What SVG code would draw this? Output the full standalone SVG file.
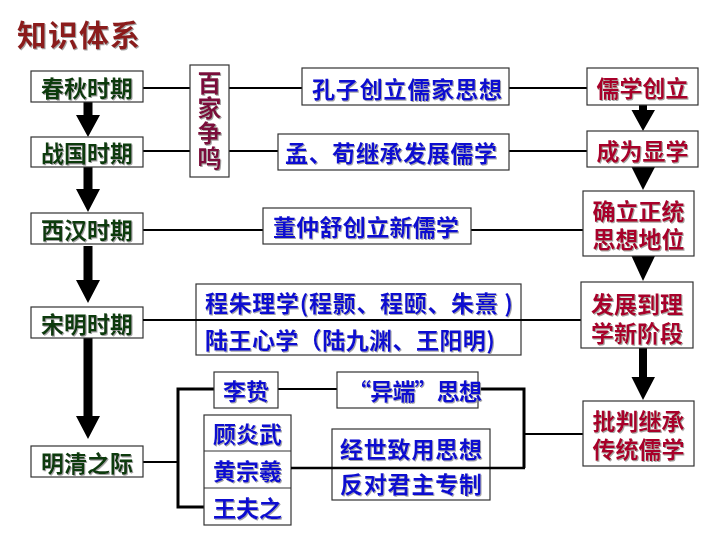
<svg xmlns="http://www.w3.org/2000/svg" width="720" height="540" viewBox="0 0 720 540">
<defs>
<filter id="sh" x="-5%" y="-10%" width="115%" height="130%">
<feDropShadow dx="1" dy="1" stdDeviation="0.4" flood-color="#9a9a9a" flood-opacity="0.9"/>
</filter>
</defs>
<style>
text{font-family:"Noto Sans CJK SC","Noto Sans CJK TC",sans-serif;font-weight:bold;dominant-baseline:central;filter:url(#sh)}
.box{fill:#fff;stroke:#333;stroke-width:1.2}
.ln{stroke:#000;stroke-width:2.2;fill:none}
.arr{fill:#000}
.per{font-size:23px;fill:#0b3b0b;text-anchor:middle}
.blu{font-size:23px;fill:#0a0ad0;text-anchor:middle}
.red{font-size:23px;fill:#a8002c;text-anchor:middle}
.bj{font-size:24px;fill:#7a0a3a;writing-mode:vertical-rl;letter-spacing:1px}
.title{font-size:30px;fill:#8b1a1a}
</style>
<rect width="720" height="540" fill="#fff"/>
<text class="title" x="17" y="33" textLength="123">知识体系</text>

<g id="connectors">
<line class="ln" x1="143" y1="88" x2="190" y2="88"/>
<line class="ln" x1="229" y1="88" x2="302" y2="88"/>
<line class="ln" x1="509" y1="88" x2="587" y2="88"/>
<line class="ln" x1="143" y1="151" x2="190" y2="151"/>
<line class="ln" x1="229" y1="151" x2="278" y2="151"/>
<line class="ln" x1="509" y1="151" x2="587" y2="151"/>
<line class="ln" x1="143" y1="230" x2="263" y2="230"/>
<line class="ln" x1="471" y1="230" x2="583" y2="230"/>
<line class="ln" x1="143" y1="462" x2="178" y2="462"/>
<path class="ln" d="M214 389 H178 V507 H204" style="stroke-width:3"/>
<line class="ln" x1="278" y1="389" x2="337" y2="389"/>
<path class="ln" d="M478 389 H524 V468" style="stroke-width:3"/>
<line class="ln" x1="524" y1="434" x2="583" y2="434"/>
<!-- left arrows -->
<path class="arr" d="M83.5 102 H92.5 V115 H100 L88 137 L76 115 H83.5 Z"/>
<path class="arr" d="M83.5 167 H92.5 V189 H100 L88 212 L76 189 H83.5 Z"/>
<path class="arr" d="M83.5 246 H92.5 V280 H100 L88 303 L76 280 H83.5 Z"/>
<path class="arr" d="M83.5 338 H92.5 V416 H100 L88 439 L76 416 H83.5 Z"/>
<!-- right arrows -->
<path class="arr" d="M639 105 H647 V110 H655 L643 131 L631.5 110 H639 Z"/>
<path class="arr" d="M631.5 167 H655 L643 190 Z"/>
<path class="arr" d="M631.5 256 H655 L643 281 Z"/>
<path class="arr" d="M639 348 H647 V377 H655 L643 400 L631.5 377 H639 Z"/>
</g>

<g id="chunqiu"><rect class="box" x="31" y="71" width="112" height="31"/><text class="per" x="87" y="86.5">春秋时期</text></g>
<g id="zhanguo"><rect class="box" x="31" y="137" width="112" height="30"/><text class="per" x="87" y="152">战国时期</text></g>
<g id="xihan"><rect class="box" x="31" y="213" width="112" height="31"/><text class="per" x="87" y="228.5">西汉时期</text></g>
<g id="songming"><rect class="box" x="31" y="307" width="112" height="31"/><text class="per" x="87" y="322.5">宋明时期</text></g>
<g id="mingqing"><rect class="box" x="31" y="446" width="112" height="31"/><text class="per" x="87" y="461.5">明清之际</text></g>

<g id="baijia"><rect class="box" x="190" y="65" width="39" height="112"/>
<text class="bj" x="209.5" y="71">百家争鸣</text></g>

<g id="kongzi"><rect class="box" x="302" y="68" width="207" height="37"/><text class="blu" x="407" y="88" textLength="190">孔子创立儒家思想</text></g>
<g id="mengxun"><rect class="box" x="278" y="134" width="231" height="36"/><text class="blu" x="391" y="152" textLength="212">孟、荀继承发展儒学</text></g>
<g id="dongzhongshu"><rect class="box" x="263" y="208" width="208" height="36"/><text class="blu" x="366" y="226" textLength="186">董仲舒创立新儒学</text></g>

<g id="lixue"><rect class="box" x="196" y="284" width="325" height="71"/>
<line class="ln" x1="143" y1="320" x2="581" y2="320"/>
<text class="blu" x="205" y="302" style="text-anchor:start" textLength="308">程朱理学(程颢、程颐、朱熹 )</text>
<text class="blu" x="205" y="339" style="text-anchor:start" textLength="290">陆王心学（陆九渊、王阳明)</text></g>

<g id="lizhi"><rect class="box" x="214" y="372" width="64" height="36"/><text class="blu" x="246" y="390">李贽</text></g>
<g id="yiduan"><rect class="box" x="337" y="372" width="141" height="36"/><text class="blu" x="348" y="390" style="text-anchor:start" textLength="134">“异端”思想</text></g>

<g id="sanjia"><rect class="box" x="204" y="415" width="87" height="110"/>
<line x1="204" y1="451" x2="291" y2="451" stroke="#333" stroke-width="1.2"/>
<line x1="204" y1="488" x2="291" y2="488" stroke="#333" stroke-width="1.2"/>
<text class="blu" x="247.5" y="433">顾炎武</text><text class="blu" x="247.5" y="470">黄宗羲</text><text class="blu" x="247.5" y="507">王夫之</text></g>

<g id="jingshi"><rect class="box" x="332" y="429" width="158" height="71"/>
<line class="ln" x1="291" y1="468" x2="525" y2="468" style="stroke-width:2.6"/>
<text class="blu" x="411" y="448" textLength="142">经世致用思想</text>
<text class="blu" x="411" y="483" textLength="142">反对君主专制</text></g>

<g id="rxcl"><rect class="box" x="587" y="68" width="111" height="37"/><text class="red" x="642.5" y="87">儒学创立</text></g>
<g id="cwxx"><rect class="box" x="587" y="131" width="111" height="36"/><text class="red" x="642.5" y="150">成为显学</text></g>
<g id="zhengtong"><rect class="box" x="583" y="191" width="111" height="65"/><text class="red"><tspan x="638.5" y="210">确立正统</tspan><tspan x="638.5" y="238">思想地位</tspan></text></g>
<g id="fazhan"><rect class="box" x="581" y="282" width="112" height="66"/><text class="red"><tspan x="637" y="303">发展到理</tspan><tspan x="637" y="332">学新阶段</tspan></text></g>
<g id="pipan"><rect class="box" x="583" y="401" width="111" height="65"/><text class="red"><tspan x="638.5" y="420">批判继承</tspan><tspan x="638.5" y="448">传统儒学</tspan></text></g>
</svg>
